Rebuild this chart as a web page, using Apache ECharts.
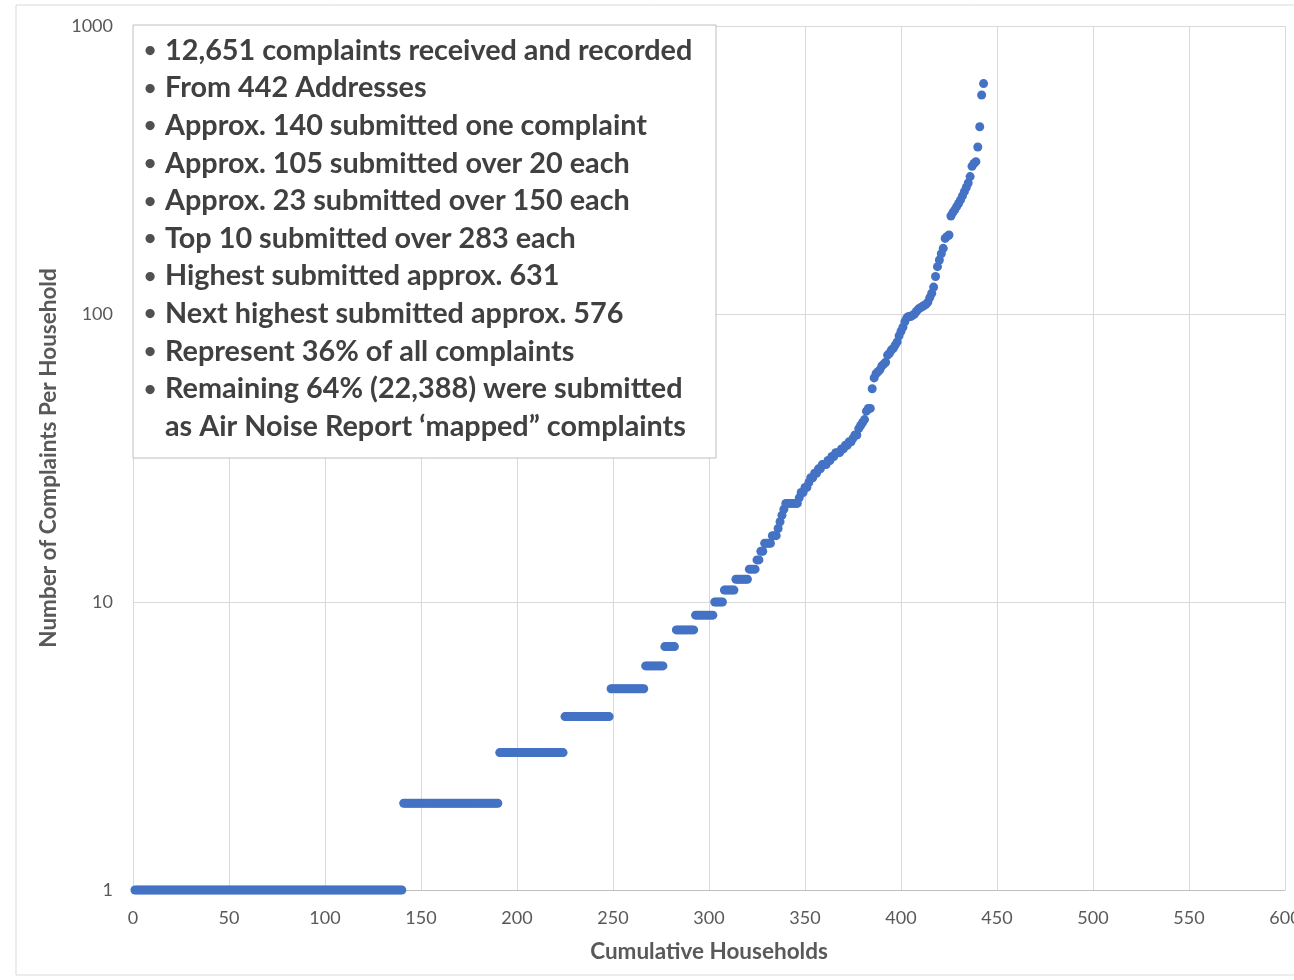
<!DOCTYPE html>
<html>
<head>
<meta charset="utf-8">
<script src="https://cdn.jsdelivr.net/npm/echarts@6/dist/echarts.min.js"></script>
<style>html,body{margin:0;padding:0;background:#fff;}#c{width:1294px;height:980px;}</style>
</head>
<body>
<div id="c"></div>
<script>
// Step part: complaint level and number of households at that level
var stepLevels = [1, 2, 3, 4, 5, 6, 7, 8, 9, 10, 11, 12, 13];
var stepCounts = [140, 50, 34, 24, 18, 10, 6, 10, 10, 5, 6, 7, 4];
// Remaining households (325..443), complaints per household
var tailValues = [
  14, 14, 15, 15, 16, 16, 16, 16, 17, 17, 17, 18, 19, 20, 21, 22, 22, 22, 22, 22,
  22, 22, 23, 24, 24, 25, 25, 26, 27, 27, 28, 28, 29, 29, 30, 30, 30, 31, 31, 32,
  32, 33, 33, 33, 34, 34, 35, 35, 36, 36, 37, 38, 38, 40, 41, 42, 43, 46, 47, 47,
  55, 60, 62, 63, 64, 66, 67, 68, 72, 73, 75, 76, 78, 80, 84, 87, 90, 94, 97, 98,
  98, 99, 100, 102, 104, 105, 106, 107, 108, 110, 114, 118, 124, 135, 146, 154, 162, 169, 183, 186,
  188, 219, 225, 230, 236, 242, 249, 257, 266, 275, 285, 300, 326, 333, 338, 380, 447, 576, 631
];
var xTicks = [0, 50, 100, 150, 200, 250, 300, 350, 400, 450, 500, 550, 600];
var yTicks = [1, 10, 100, 1000];
var notes = [
  '12,651 complaints received and recorded',
  'From 442 Addresses',
  'Approx. 140 submitted one complaint',
  'Approx. 105 submitted over 20 each',
  'Approx. 23 submitted over 150 each',
  'Top 10 submitted over 283 each',
  'Highest submitted approx. 631',
  'Next highest submitted approx. 576',
  'Represent 36% of all complaints',
  'Remaining 64% (22,388) were submitted',
  'as Air Noise Report \u2018mapped\u201d complaints'
];
var noteBullets = [true, true, true, true, true, true, true, true, true, true, false];

var points = [];
var hh = 1;
stepLevels.forEach(function (lv, i) {
  for (var k = 0; k < stepCounts[i]; k++) { points.push([hh, lv]); hh++; }
});
tailValues.forEach(function (v) { points.push([hh, v]); hh++; });

var chart = echarts.init(document.getElementById('c'), null, {renderer: 'canvas'});
var font = 'Lato, "Open Sans", sans-serif';
var textEls = [];
var lineTop = 53, lineStep = 37.6;
notes.forEach(function (t, i) {
  if (noteBullets[i]) {
    textEls.push({type: 'text', left: 144, top: lineTop + i * lineStep - 13, z: 101,
      style: {text: '\u2022', font: 'bold 21px ' + font, fill: '#505050'}});
  }
  textEls.push({type: 'text', left: 165, top: lineTop + i * lineStep - 17, z: 101,
    style: {text: t, font: 'bold 28.8px ' + font, fill: '#404040'}});
});

var option = {
  animation: false,
  backgroundColor: '#fff',
  grid: {left: 133, right: 9, top: 26, bottom: 90, containLabel: false, outerBoundsMode: 'none'},
  xAxis: {
    type: 'value', min: 0, max: 600, interval: 50,
    axisLine: {show: true, onZero: false, lineStyle: {color: '#bfbfbf', width: 1}},
    axisTick: {show: false},
    axisLabel: {color: '#595959', fontSize: 18, fontFamily: font, margin: 19, hideOverlap: false,
      formatter: function (v) { return xTicks.indexOf(v) >= 0 ? String(v) : ''; }},
    splitLine: {show: true, lineStyle: {color: '#d9d9d9', width: 1}},
    name: 'Cumulative Households', nameLocation: 'middle', nameGap: 50,
    nameTextStyle: {color: '#595959', fontSize: 22.5, fontWeight: 'bold', fontFamily: font}
  },
  yAxis: {
    type: 'log', logBase: 10, min: 1, max: 1000,
    axisLine: {show: false},
    axisTick: {show: false},
    axisLabel: {color: '#595959', fontSize: 18, fontFamily: font, margin: 20,
      formatter: function (v) { return yTicks.indexOf(Math.round(v)) >= 0 ? String(Math.round(v)) : ''; }},
    splitLine: {show: true, lineStyle: {color: '#d9d9d9', width: 1}},
    name: 'Number of Complaints Per Household', nameLocation: 'middle', nameGap: 66, nameRotate: 90,
    nameTextStyle: {color: '#595959', fontSize: 22.5, fontWeight: 'bold', fontFamily: font}
  },
  series: [{
    type: 'scatter',
    data: points,
    symbol: 'circle',
    symbolSize: 9,
    itemStyle: {color: '#4472C4', opacity: 1},
    z: 5
  }],
  graphic: [
    {type: 'rect', z: 0, silent: true,
      shape: {x: 16, y: 5, width: 1300, height: 970},
      style: {fill: 'none', stroke: '#d9d9d9', lineWidth: 1}},
    {type: 'rect', z: 100, silent: true,
      shape: {x: 133, y: 25, width: 583, height: 433},
      style: {fill: '#ffffff', stroke: '#bfbfbf', lineWidth: 1}}
  ].concat(textEls)
};
chart.setOption(option);
</script>
</body>
</html>
